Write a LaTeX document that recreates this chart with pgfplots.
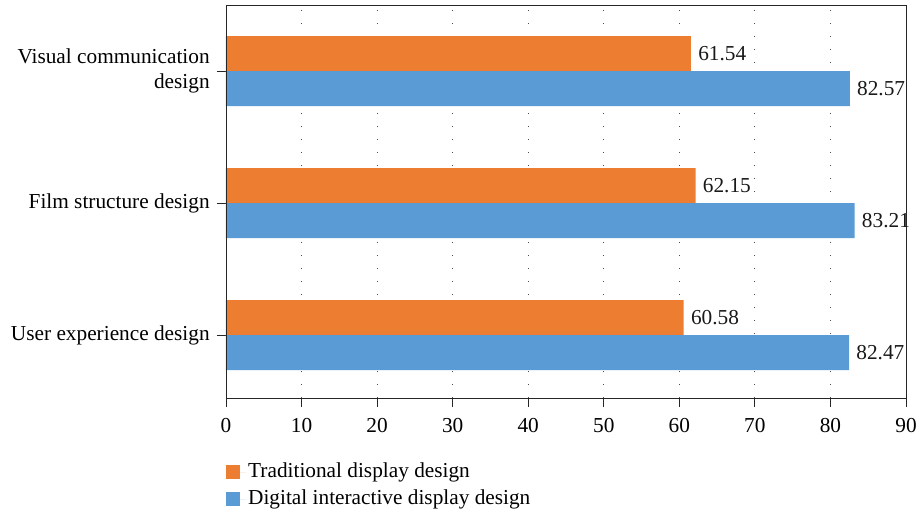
\documentclass[border=0pt]{standalone}
\usepackage{pgfplots}
\pgfplotsset{compat=1.18}
\usepackage{fontspec}
\setmainfont{Liberation Serif}
\definecolor{tradorange}{HTML}{ED7D31}
\definecolor{digblue}{HTML}{5B9BD5}
\definecolor{axisgray}{HTML}{262626}
\newcommand{\chartfont}{\fontsize{21.3}{25}\selectfont}
\begin{document}
\chartfont
\begin{tikzpicture}
\useasboundingbox (-226pt,-115pt) rectangle (690pt,398pt);
\begin{axis}[
  at={(0pt,0pt)}, anchor=south west,
  scale only axis,
  width=680pt, height=393pt,
  xbar, bar width=35pt,
  xmin=0, xmax=90, xtick={0,10,...,90},
  ymin=-0.477, ymax=2.5,
  ytick={0,1,2},
  yticklabels={User experience design, Film structure design, {Visual communication\\design}},
  yticklabel style={align=right, font=\chartfont},
  xticklabel style={font=\chartfont, yshift=-4pt},
  /pgf/number format/assume math mode=true,
  tick align=outside, major tick length=9pt,
  tick pos=left,
  axis line style={axisgray, line width=0.9pt},
  tick style={axisgray, line width=0.9pt},
  xmajorgrids,
  grid style={black!70, line width=0.9pt, dash pattern=on 0.9pt off 12pt},
  nodes near coords,
  nodes near coords style={font=\chartfont, anchor=west, text=black!90,
    /pgf/number format/.cd, fixed, fixed zerofill, precision=2},
  legend style={at={(0,0)}, anchor=north west, yshift=-63pt, draw=none, fill=none,
    inner sep=0pt, font=\chartfont, row sep=5pt},
  legend cell align=left,
  legend image code/.code={\fill[#1] (0pt,-7pt) rectangle (14pt,7pt);
    \path (0pt,0pt) -- (20pt,0pt);},
]
\addplot[fill=tradorange, draw=none, bar shift=17.5pt] coordinates {(60.58,0) (62.15,1) (61.54,2)};
\addlegendentry{Traditional display design}
\addplot[fill=digblue, draw=none, bar shift=-17.5pt] coordinates {(82.47,0) (83.21,1) (82.57,2)};
\addlegendentry{Digital interactive display design}
% frame around the plot area
\draw[axisgray, line width=0.9pt] (rel axis cs:0,0) rectangle (rel axis cs:1,1);
\end{axis}
\end{tikzpicture}
\end{document}
